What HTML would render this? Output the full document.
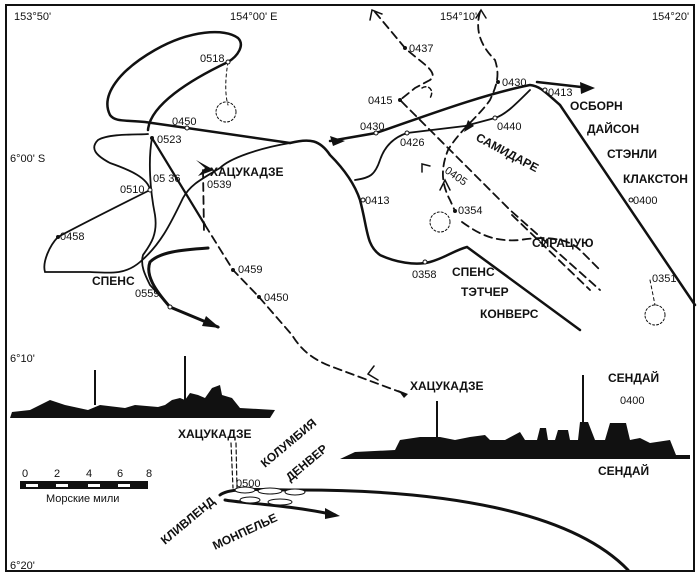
<!DOCTYPE html>
<html><head><meta charset="utf-8"><style>
html,body{margin:0;padding:0;background:#fff;}
svg{display:block}
text{font-family:"Liberation Sans",sans-serif;font-weight:bold;fill:#111}
.s{font-size:11px;font-weight:normal}
.m{font-size:12px}
</style></head><body>
<svg width="700" height="576" viewBox="0 0 700 576" xmlns="http://www.w3.org/2000/svg">
<rect x="6" y="5" width="688" height="566" fill="#fff" stroke="#111" stroke-width="2"/>
<g fill="none" stroke="#111" stroke-linecap="round">
<path d="M148,130 C150,105 190,80 228,62 C238,56 245,45 238,38 C225,28 190,30 155,50 C120,70 100,95 110,115 C115,122 125,120 145,122 L187,128 L290,143" stroke-width="2.5"/>
<path d="M290,143 C310,138 320,140 330,155 C345,170 355,185 360,200 C368,230 366,245 380,255 C395,262 415,266 430,262 C445,258 455,250 467,247 L580,330" stroke-width="2.5"/>
<path d="M290,143 C260,148 230,158 220,168 C200,180 190,185 183,198 C170,225 160,245 140,262 C125,275 110,273 90,272 L45,272 C42,262 50,245 58,237 C80,225 120,205 150,190 C148,178 130,170 110,163 C95,155 90,148 98,140 C110,133 140,135 148,134" stroke-width="1.8"/>
<path d="M152,138 C148,160 150,190 155,215 C158,235 150,245 143,255 C140,265 145,275 150,285 L170,307 L218,327" stroke-width="1.8"/>
<path d="M208,248 C180,250 160,252 150,262 C145,275 155,290 170,307 L218,327" stroke-width="3"/>
<path d="M152,138 L205,225" stroke-width="2.2"/>
<path d="M205,225 L233,270 L259,297 L292,335 C300,348 310,358 330,366 L400,392" stroke-width="1.8" stroke-dasharray="8,5"/>
<path d="M203,170 L204,232" stroke-width="1.8" stroke-dasharray="8,5"/>
<path d="M228,62 C225,80 225,95 228,105" stroke-width="1" stroke-dasharray="3,3"/>
<circle cx="226" cy="112" r="10" stroke-width="1" stroke-dasharray="2,2"/>
<path d="M330,141 L376,133 C420,118 480,95 530,85 C540,86 545,92 560,105 L695,305" stroke-width="2.5"/>
<path d="M537,82 L590,88" stroke-width="2.5"/>
<path d="M530,90 C515,105 505,115 495,118 L465,126 L407,133 C395,137 385,145 380,160 C375,175 370,178 355,180" stroke-width="1.8"/>
<path d="M375,12 L405,48 C420,62 440,72 430,80 L415,88 L400,100 L450,150 L510,210 L600,290" stroke-width="1.8" stroke-dasharray="8,5"/>
<path d="M480,12 C475,30 480,45 495,60 C500,75 497,85 490,100 C480,115 460,130 448,150 C440,170 442,185 450,200 L455,211" stroke-width="1.8" stroke-dasharray="8,5"/>
<path d="M462,222 C480,235 495,242 520,240 C550,235 570,240 580,250 L600,270" stroke-width="1.8" stroke-dasharray="8,5"/>
<path d="M512,215 L590,290" stroke-width="1.8" stroke-dasharray="8,5"/>
<path d="M422,88 C428,84 435,90 430,98" stroke-width="1.5" stroke-dasharray="4,3"/>
<path d="M370,20 L372,10 L382,14 M476,18 L481,10 L486,18 M440,190 L445,180 L450,190 M422,172 L422,164 L430,166 M378,380 L368,374 L374,366" stroke-width="1.5"/>
<circle cx="440" cy="222" r="10" stroke-width="1" stroke-dasharray="2,2"/>
<circle cx="655" cy="315" r="10" stroke-width="1" stroke-dasharray="2,2"/>
<path d="M650,280 L655,305" stroke-width="1" stroke-dasharray="3,3"/>
<path d="M231,443 L233,488 M236,443 L237,488" stroke-width="1.2" stroke-dasharray="4,3"/>
<path d="M220,495 C230,487 260,490 300,490 C440,490 570,510 628,570" stroke-width="3"/>
<path d="M225,500 C240,503 290,505 335,515" stroke-width="3"/>
</g>
<g fill="#111">
<polygon points="345,141 330,136 333,146"/>
<polygon points="595,88 580,82 581,94"/>
<polygon points="220,328 206,316 202,326"/>
<polygon points="340,516 325,508 325,519"/>
<polygon points="205,168 196,160 214,170 198,176"/>
<polygon points="468,120 474,126 464,132"/>
<polygon points="398,390 408,394 404,398"/>
<path d="M10,418 L270,418 L275,410 L240,408 L232,398 L222,395 L220,385 L212,388 L205,398 L198,395 L190,393 L185,400 L180,398 L172,400 L165,405 L158,407 L135,405 L125,408 L100,405 L88,410 L65,405 L50,400 L40,405 L30,410 L12,412 Z"/>
<rect x="184" y="356" width="2" height="45"/><rect x="94" y="370" width="2" height="35"/>
<path d="M340,459 L690,459 L690,455 L676,455 L670,440 L650,443 L640,438 L630,440 L626,423 L610,423 L605,440 L595,440 L588,422 L580,422 L578,440 L570,440 L568,430 L558,430 L555,440 L548,440 L546,428 L540,428 L537,440 L525,440 L520,432 L505,440 L490,440 L485,435 L470,437 L455,440 L440,437 L420,437 L400,440 L395,450 L355,452 Z"/>
<rect x="436" y="401" width="2" height="40"/><rect x="582" y="375" width="2" height="60"/>
<rect x="20" y="481" width="128" height="8"/>
</g>
<g fill="#fff"><rect x="26" y="484" width="12" height="3"/><rect x="56" y="484" width="12" height="3"/><rect x="88" y="484" width="12" height="3"/><rect x="118" y="484" width="12" height="3"/></g>
<g fill="#fff" stroke="#111" stroke-width="1">
<ellipse cx="245" cy="490" rx="10" ry="3"/><ellipse cx="270" cy="491" rx="12" ry="3"/><ellipse cx="295" cy="492" rx="10" ry="3"/>
<ellipse cx="250" cy="500" rx="10" ry="3"/><ellipse cx="280" cy="502" rx="12" ry="3"/>
<circle cx="187" cy="128" r="2"/><circle cx="228" cy="62" r="2"/><circle cx="150" cy="190" r="2"/><circle cx="170" cy="307" r="2"/>
<circle cx="376" cy="133" r="2"/><circle cx="407" cy="133" r="2"/><circle cx="495" cy="118" r="2"/><circle cx="545" cy="90" r="2"/><circle cx="363" cy="200" r="2"/><circle cx="425" cy="262" r="2"/><circle cx="631" cy="200" r="2"/>
</g>
<g fill="#111"><circle cx="152" cy="138" r="2"/><circle cx="233" cy="270" r="2"/><circle cx="259" cy="297" r="2"/><circle cx="58" cy="237" r="2"/><circle cx="405" cy="48" r="2"/><circle cx="400" cy="100" r="2"/><circle cx="498" cy="82" r="2"/><circle cx="455" cy="211" r="2"/></g>
<text class="s" x="14" y="20">153°50'</text><text class="s" x="230" y="20">154°00' E</text>
<text class="s" x="440" y="20">154°10'</text><text class="s" x="652" y="20">154°20'</text>
<text class="s" x="10" y="162">6°00' S</text><text class="s" x="10" y="362">6°10'</text><text class="s" x="10" y="569">6°20'</text>
<text class="s" x="200" y="62">0518</text><text class="s" x="172" y="125">0450</text><text class="s" x="157" y="143">0523</text>
<text class="s" x="153" y="182">05 36</text><text class="s" x="120" y="193">0510</text><text class="s" x="207" y="188">0539</text>
<text class="m" x="210" y="176">ХАЦУКАДЗЕ</text><text class="s" x="60" y="240">0458</text>
<text class="m" x="92" y="285">СПЕНС</text><text class="s" x="135" y="297">0559</text>
<text class="s" x="238" y="273">0459</text><text class="s" x="264" y="301">0450</text>
<text class="s" x="409" y="52">0437</text><text class="s" x="368" y="104">0415</text>
<text class="s" x="502" y="86">0430</text><text class="s" x="548" y="96">0413</text>
<text class="s" x="360" y="130">0430</text><text class="s" x="400" y="146">0426</text><text class="s" x="497" y="130">0440</text>
<text class="m" x="475" y="140" transform="rotate(28 475 140)">САМИДАРЕ</text>
<text class="s" x="444" y="172" transform="rotate(35 444 172)">0405</text>
<text class="s" x="365" y="204">0413</text><text class="s" x="458" y="214">0354</text>
<text class="s" x="412" y="278">0358</text><text class="m" x="452" y="276">СПЕНС</text>
<text class="m" x="461" y="296">ТЭТЧЕР</text><text class="m" x="480" y="318">КОНВЕРС</text>
<text class="m" x="532" y="247">СИРАЦУЮ</text>
<text class="m" x="570" y="110">ОСБОРН</text><text class="m" x="587" y="133">ДАЙСОН</text>
<text class="m" x="607" y="158">СТЭНЛИ</text><text class="m" x="623" y="183">КЛАКСТОН</text>
<text class="s" x="633" y="204">0400</text><text class="s" x="652" y="282">0351</text>
<text class="m" x="410" y="390">ХАЦУКАДЗЕ</text><text class="m" x="608" y="382">СЕНДАЙ</text><text class="s" x="620" y="404">0400</text>
<text class="m" x="598" y="475">СЕНДАЙ</text><text class="m" x="178" y="438">ХАЦУКАДЗЕ</text>
<text class="s" x="22" y="477">0</text><text class="s" x="54" y="477">2</text><text class="s" x="86" y="477">4</text><text class="s" x="117" y="477">6</text><text class="s" x="146" y="477">8</text>
<text class="s" x="46" y="502">Морские мили</text>
<text class="s" x="236" y="487">0500</text>
<text class="m" x="265" y="468" transform="rotate(-40 265 468)">КОЛУМБИЯ</text>
<text class="m" x="290" y="482" transform="rotate(-40 290 482)">ДЕНВЕР</text>
<text class="m" x="165" y="545" transform="rotate(-40 165 545)">КЛИВЛЕНД</text>
<text class="m" x="215" y="550" transform="rotate(-25 215 550)">МОНПЕЛЬЕ</text>
</svg>
</body></html>
